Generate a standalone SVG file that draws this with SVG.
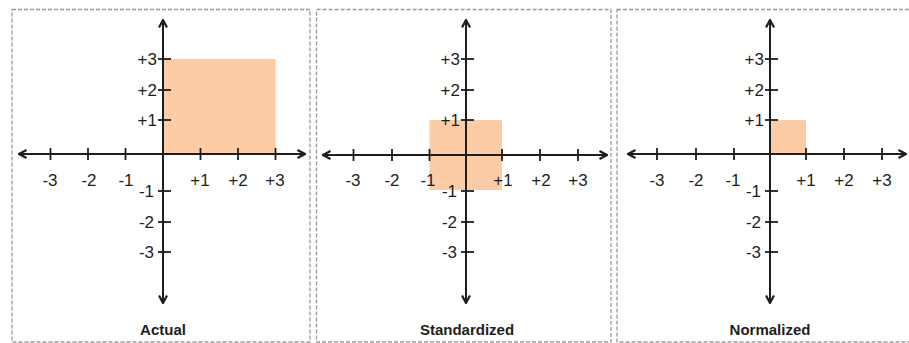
<svg xmlns="http://www.w3.org/2000/svg" width="909" height="343" viewBox="0 0 909 343">
<defs>
<style>
.frame{fill:none;stroke:#9a9a9a;stroke-width:1.3;stroke-dasharray:4 2}
.axis{stroke:#1e1e1e;stroke-width:2;fill:none;marker-start:url(#ah);marker-end:url(#ah)}
.tick{stroke:#1e1e1e;stroke-width:1.8}
.area{fill:#fccca7}
.num{font-family:"Liberation Sans",Arial,sans-serif;font-size:17px;fill:#1e1e1e}
.nx{text-anchor:middle}
.ny{text-anchor:end}
.title{font-family:"Liberation Sans",Arial,sans-serif;font-size:15px;font-weight:bold;fill:#1e1e1e;text-anchor:middle}
</style>
<marker id="ah" viewBox="0 0 10 10" refX="9" refY="5" markerWidth="10" markerHeight="10" markerUnits="userSpaceOnUse" orient="auto-start-reverse">
<path d="M1.5,1 L9,5 L1.5,9" fill="none" stroke="#1e1e1e" stroke-width="2.2"/>
</marker>
</defs>
<rect width="909" height="343" fill="#ffffff"/>

<g id="panel-actual">
<rect class="frame" x="12" y="9.5" width="298" height="332.5"/>
<rect class="area" x="163" y="59" width="112.5" height="95"/>
<line class="axis" x1="19" y1="154" x2="305" y2="154"/>
<line class="axis" x1="163" y1="303" x2="163" y2="20"/>
<g class="tick">
<line x1="50.5" y1="148" x2="50.5" y2="160"/><line x1="88" y1="148" x2="88" y2="160"/><line x1="125.5" y1="148" x2="125.5" y2="160"/>
<line x1="200.5" y1="148" x2="200.5" y2="160"/><line x1="238" y1="148" x2="238" y2="160"/><line x1="275.5" y1="148" x2="275.5" y2="160"/>
<line x1="158" y1="59" x2="171" y2="59"/><line x1="158" y1="90" x2="171" y2="90"/><line x1="158" y1="120" x2="171" y2="120"/>
<line x1="158" y1="191" x2="171" y2="191"/><line x1="158" y1="222" x2="171" y2="222"/><line x1="158" y1="252" x2="171" y2="252"/>
</g>
<g class="num nx">
<text x="50" y="186">-3</text><text x="89" y="186">-2</text><text x="126" y="186">-1</text>
<text x="200" y="186">+1</text><text x="238" y="186">+2</text><text x="275" y="186">+3</text>
</g>
<g class="num ny">
<text x="157" y="65">+3</text><text x="157" y="96">+2</text><text x="157" y="126">+1</text>
<text x="154" y="197">-1</text><text x="154" y="228">-2</text><text x="154" y="258">-3</text>
</g>
<text class="title" x="163" y="335">Actual</text>
</g>

<g id="panel-standardized">
<rect class="frame" x="316.5" y="9.5" width="294.5" height="332.5"/>
<rect class="area" x="429.5" y="120" width="72.5" height="70"/>
<line class="axis" x1="323" y1="155" x2="607" y2="155"/>
<line class="axis" x1="466" y1="303" x2="466" y2="20"/>
<g class="tick">
<line x1="353.5" y1="149" x2="353.5" y2="161"/><line x1="392" y1="149" x2="392" y2="161"/><line x1="429.5" y1="149" x2="429.5" y2="161"/>
<line x1="502" y1="149" x2="502" y2="161"/><line x1="540" y1="149" x2="540" y2="161"/><line x1="578" y1="149" x2="578" y2="161"/>
<line x1="461" y1="59" x2="474" y2="59"/><line x1="461" y1="90" x2="474" y2="90"/><line x1="461" y1="120" x2="474" y2="120"/>
<line x1="461" y1="191" x2="474" y2="191"/><line x1="461" y1="222" x2="474" y2="222"/><line x1="461" y1="252" x2="474" y2="252"/>
</g>
<g class="num nx">
<text x="353" y="186">-3</text><text x="392" y="186">-2</text><text x="428" y="186">-1</text>
<text x="503" y="186">+1</text><text x="541" y="186">+2</text><text x="578" y="186">+3</text>
</g>
<g class="num ny">
<text x="460" y="65">+3</text><text x="460" y="96">+2</text><text x="460" y="126">+1</text>
<text x="457" y="197">-1</text><text x="457" y="228">-2</text><text x="457" y="258">-3</text>
</g>
<text class="title" x="467" y="335">Standardized</text>
</g>

<g id="panel-normalized">
<rect class="frame" x="617" y="9.5" width="296" height="332.5"/>
<rect class="area" x="770" y="120" width="36" height="34"/>
<line class="axis" x1="628" y1="154" x2="906" y2="154"/>
<line class="axis" x1="770" y1="303" x2="770" y2="20"/>
<g class="tick">
<line x1="657" y1="148" x2="657" y2="160"/><line x1="696" y1="148" x2="696" y2="160"/><line x1="734" y1="148" x2="734" y2="160"/>
<line x1="806" y1="148" x2="806" y2="160"/><line x1="844" y1="148" x2="844" y2="160"/><line x1="882" y1="148" x2="882" y2="160"/>
<line x1="765" y1="59" x2="778" y2="59"/><line x1="765" y1="90" x2="778" y2="90"/><line x1="765" y1="120" x2="778" y2="120"/>
<line x1="765" y1="191" x2="778" y2="191"/><line x1="765" y1="222" x2="778" y2="222"/><line x1="765" y1="252" x2="778" y2="252"/>
</g>
<g class="num nx">
<text x="657" y="186">-3</text><text x="696" y="186">-2</text><text x="733" y="186">-1</text>
<text x="806" y="186">+1</text><text x="844" y="186">+2</text><text x="882" y="186">+3</text>
</g>
<g class="num ny">
<text x="764" y="65">+3</text><text x="764" y="96">+2</text><text x="764" y="126">+1</text>
<text x="761" y="197">-1</text><text x="761" y="228">-2</text><text x="761" y="258">-3</text>
</g>
<text class="title" x="770" y="335">Normalized</text>
</g>
</svg>
